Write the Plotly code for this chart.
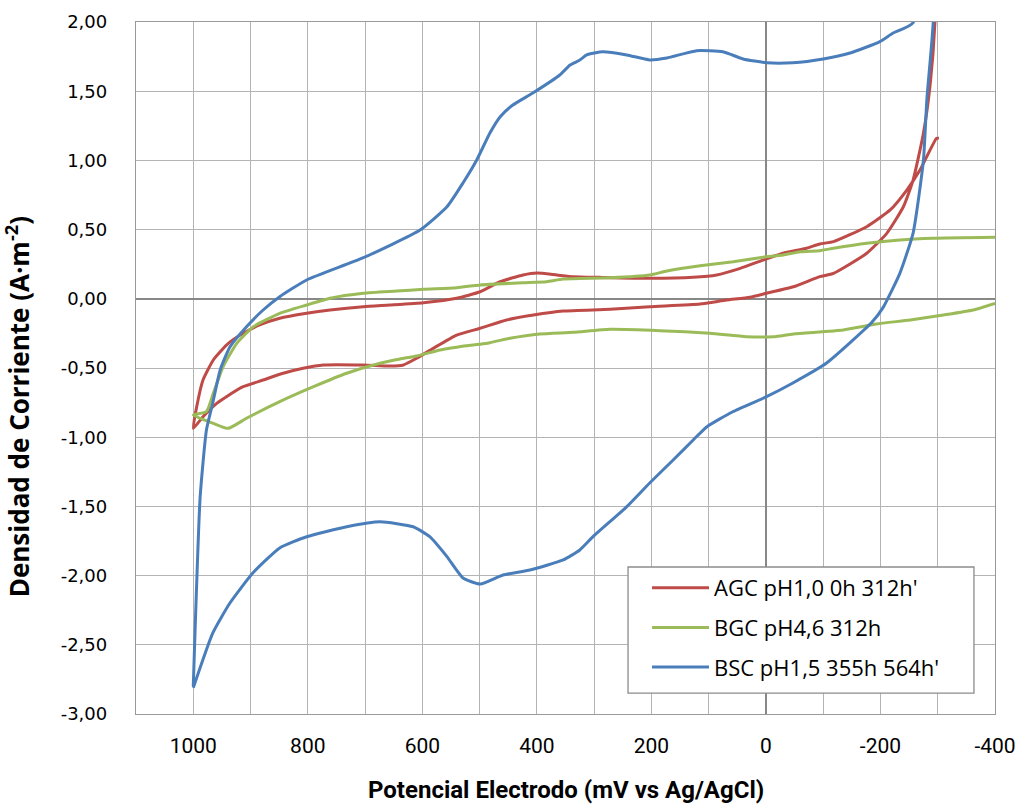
import plotly.graph_objects as go

# ---- data ----
agc_x = [-302, -298, -269, -246, -217, -176, -118, -94, -71, -30, 5, 45, 86, 127, 203, 290, 336, 365, 400,
         424, 464, 499, 540, 598, 657, 703, 761, 802, 849, 884, 918, 942, 965, 983, 994, 1000,
         983, 959, 942, 913, 878, 843, 808, 773, 703, 657, 633, 610, 581, 540, 499, 453, 406, 354, 272,
         203, 115, 69, 28, -1, -48, -94, -118, -176, -211, -240, -257, -275, -287, -295, -302]
agc_y = [1.16, 1.16, 0.93, 0.786, 0.642, 0.521, 0.413, 0.396, 0.365, 0.329, 0.28, 0.22, 0.172, 0.155, 0.148,
         0.155, 0.16, 0.172, 0.186, 0.172, 0.124, 0.051, 0.004, -0.028, -0.045, -0.057, -0.081, -0.105,
         -0.141, -0.189, -0.262, -0.334, -0.442, -0.587, -0.78, -0.936,
         -0.852, -0.755, -0.707, -0.635, -0.587, -0.538, -0.502, -0.478, -0.478, -0.486, -0.478, -0.43,
         -0.358, -0.262, -0.213, -0.153, -0.117, -0.088, -0.076, -0.057, -0.038, -0.009, 0.011, 0.04,
         0.087, 0.16, 0.184, 0.329, 0.473, 0.665, 0.858, 1.196, 1.557, 1.99, 3.5]

bgc_x = [-400, -362, -310, -252, -193, -135, -48, -13, 34, 98, 185, 272, 336, 395, 447, 482, 540, 569,
         610, 639, 674, 732, 790, 849, 907, 939, 965, 1000,
         977, 965, 948, 924, 895, 849, 802, 761, 703, 645, 598, 540, 499, 424, 383, 354, 272, 203, 173,
         115, 57, 5, -30, -60, -94, -118, -176, -234, -292, -400]
bgc_y = [-0.033, -0.081, -0.117, -0.153, -0.182, -0.225, -0.254, -0.274, -0.274, -0.249, -0.23, -0.22,
         -0.242, -0.254, -0.285, -0.317, -0.35, -0.37, -0.413, -0.435, -0.466, -0.538, -0.635, -0.743,
         -0.863, -0.936, -0.9, -0.84,
         -0.816, -0.683, -0.491, -0.322, -0.202, -0.105, -0.045, 0.004, 0.04, 0.056, 0.069, 0.08, 0.1,
         0.116, 0.124, 0.143, 0.152, 0.172, 0.201, 0.239, 0.268, 0.3, 0.316, 0.34, 0.348, 0.365, 0.401,
         0.425, 0.437, 0.444]

bsc_x = [1000, 988, 977, 966, 953, 936, 907, 878, 849, 802, 704, 604, 557, 529, 505, 482, 464, 442, 407,
         360, 342, 325, 313, 285, 243, 203, 173, 121, 75, 40, -1, -47, -100, -147, -199, -222, -257, -302,
         -292, -281, -275, -257, -234, -205, -185, -106, -47, -1, 58, 103, 127, 162, 203, 243,
         302, 325, 354, 412, 459, 499, 529, 557, 587, 616, 674, 732, 802, 849, 896, 936, 966, 1000]
bsc_y = [-2.80, -1.433, -0.948, -0.753, -0.514, -0.348, -0.202, -0.081, 0.015, 0.136, 0.295, 0.497, 0.665,
         0.837, 1.003, 1.198, 1.316, 1.40, 1.487, 1.617, 1.689, 1.725, 1.762, 1.785, 1.762, 1.726, 1.74,
         1.793, 1.785, 1.733, 1.706, 1.706, 1.733, 1.776, 1.858, 1.92, 1.995, 4.0,
         1.99, 1.44, 1.0, 0.475, 0.186, -0.06, -0.17, -0.464, -0.608, -0.707, -0.816,
         -0.924, -1.02, -1.165, -1.331, -1.502, -1.719, -1.815, -1.887, -1.96, -1.996, -2.061, -2.017,
         -1.863, -1.719, -1.647, -1.611, -1.647, -1.719, -1.80, -1.981, -2.198, -2.415, -2.81]

series_names = ["AGC pH1,0 0h 312h'", "BGC pH4,6 312h", "BSC pH1,5 355h 564h'"]
x_tick_vals = [1100, 1000, 900, 800, 700, 600, 500, 400, 300, 200, 100, 0, -100, -200, -300, -400]
x_tick_text = ["", "1000", "", "800", "", "600", "", "400", "", "200", "", "0", "", "-200", "", "-400"]
y_tick_vals = [2.0, 1.5, 1.0, 0.5, 0.0, -0.5, -1.0, -1.5, -2.0, -2.5, -3.0]
y_tick_text = ["2,00", "1,50", "1,00", "0,50", "0,00", "-0,50", "-1,00", "-1,50", "-2,00", "-2,50", "-3,00"]

colors = ["#BE4B48", "#9BBB59", "#4A7EBB"]

fig = go.Figure()
for i, (xs, ys, name, c) in enumerate(zip([agc_x, bgc_x, bsc_x], [agc_y, bgc_y, bsc_y], series_names, colors)):
    fig.add_trace(go.Scatter(x=xs, y=ys, mode="lines", name=name, legendgroup=f"g{i}",
                             line=dict(color=c, width=3, shape="spline", smoothing=0.5)))

grid = "#B4B4B4"
fig.update_layout(
    width=1021, height=804,
    margin=dict(l=136, r=26, t=22, b=90, autoexpand=False),
    paper_bgcolor="white", plot_bgcolor="white",
    font=dict(family="Open Sans", color="#000000"),
    showlegend=True,
    legend=dict(x=0.5949, y=0.2124, xanchor="left", yanchor="top",
                bgcolor="rgba(0,0,0,0)", borderwidth=0,
                font=dict(family="Open Sans", size=22, color="#000"),
                itemwidth=57, tracegroupgap=8),
    xaxis=dict(range=[1100, -400], tickmode="array", tickvals=x_tick_vals, ticktext=x_tick_text,
               showgrid=True, gridcolor=grid, gridwidth=1.3, automargin=False,
               zeroline=True, zerolinecolor="#888888", zerolinewidth=1.5,
               showline=True, linecolor="#999999", linewidth=1.3, mirror=True,
               ticks="", ticklabelstandoff=13,
               tickfont=dict(family="Roboto", size=21, color="#000")),
    yaxis=dict(range=[-3, 2], tickmode="array", tickvals=y_tick_vals, ticktext=y_tick_text,
               showgrid=True, gridcolor=grid, gridwidth=1.3, automargin=False,
               zeroline=True, zerolinecolor="#888888", zerolinewidth=1.5,
               showline=True, linecolor="#999999", linewidth=1.3, mirror=True,
               ticks="", ticklabelstandoff=24,
               tickfont=dict(family="DejaVu Sans", size=18, color="#000")),
)
# legend frame (opaque white box as in the reference)
fig.add_shape(type="rect", xref="paper", yref="paper", x0=0.5728, x1=0.9755, y0=0.0303, y1=0.2124,
              line=dict(color="#8C8C8C", width=1.3), fillcolor="white", layer="above")
fig.add_annotation(text="<b>Densidad de Corriente (A·m<sup>-2</sup>)</b>", textangle=-90,
                   xref="paper", yref="paper", x=-0.137, y=0.4436, xanchor="center", yanchor="middle",
                   showarrow=False, font=dict(family="Open Sans", size=26, color="#000"))
fig.add_annotation(text="<b>Potencial Electrodo (mV vs Ag/AgCl)</b>",
                   xref="paper", yref="paper", x=0.5, y=-0.11, xanchor="center", yanchor="middle",
                   showarrow=False, font=dict(family="Roboto", size=24, color="#000"))

fig.write_html("out.html")
